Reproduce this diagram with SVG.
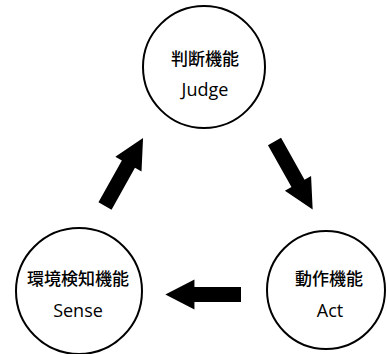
<svg xmlns="http://www.w3.org/2000/svg" width="387" height="354" viewBox="0 0 387 354">
<style>
.node circle{fill:#fff;stroke:#000;stroke-width:2}
.t{font-family:"Open Sans","Noto Sans CJK JP",sans-serif;font-size:17px;fill:#000;text-anchor:middle}
.j{font-weight:500}
.e{font-size:18px}
.arrow{fill:#000}
</style>
<defs>
<polygon id="arr" points="0,-7.5 48,-7.5 48,-15 78,0 48,15 48,7.5 0,7.5"/>
</defs>
<rect width="387" height="354" fill="#fff"/>
<g id="judge" class="node">
<circle cx="204" cy="67" r="61"/>
<text class="t j" x="205" y="65">判断機能</text>
<text class="t e" x="205" y="96">Judge</text>
</g>
<g id="sense" class="node">
<circle cx="79" cy="291" r="63"/>
<text class="t j" x="78" y="285">環境検知機能</text>
<text class="t e" x="78" y="317">Sense</text>
</g>
<g id="act" class="node">
<circle cx="326" cy="290" r="59"/>
<text class="t j" x="329" y="285">動作機能</text>
<text class="t e" x="330" y="317">Act</text>
</g>
<g id="connectors" class="arrow">
<use href="#arr" transform="translate(105,206) rotate(-60.8)"/>
<use href="#arr" transform="translate(274.5,141.5) rotate(60.7)"/>
<use href="#arr" transform="translate(241,294.5) rotate(180) scale(0.97,1)"/>
</g>
</svg>
